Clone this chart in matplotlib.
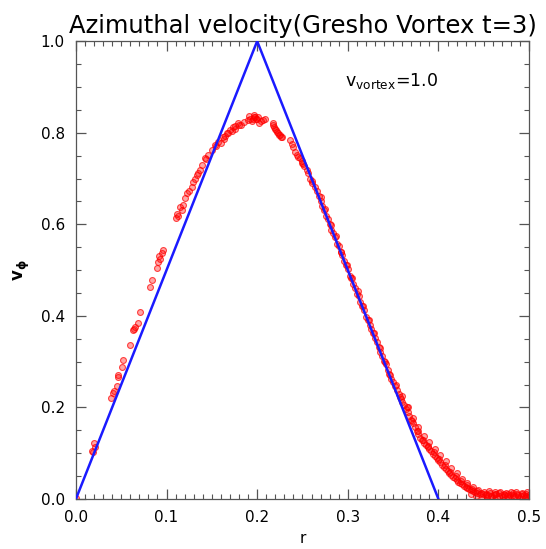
import matplotlib
matplotlib.use("Agg")
import matplotlib.pyplot as plt
from matplotlib.ticker import MultipleLocator

# ---- data ----
# analytic Gresho vortex profile (vertices of the solid line)
r_exact = [0.0, 0.2, 0.4]
v_exact = [0.0, 1.0, 0.0]

# simulated particles: rising part + peak
r_rise = [0.000, 0.0177, 0.0188, 0.0199, 0.021, 0.0386, 0.041, 0.042, 0.045, 0.0464, 0.047,
          0.051, 0.052, 0.0596, 0.063, 0.065, 0.068, 0.0706, 0.082, 0.084, 0.0894, 0.0905,
          0.092, 0.095, 0.096, 0.111, 0.112, 0.115, 0.117, 0.120, 0.1225, 0.128, 0.129,
          0.1335, 0.137, 0.139, 0.142, 0.144, 0.150, 0.153, 0.157, 0.160, 0.162, 0.165,
          0.167, 0.170, 0.172, 0.173, 0.176, 0.179, 0.182, 0.190, 0.192, 0.194, 0.196,
          0.198, 0.200, 0.202, 0.206, 0.209, 0.217, 0.219, 0.221, 0.222, 0.224, 0.225,
          0.227, 0.236, 0.238, 0.242, 0.244, 0.247, 0.249, 0.250, 0.252, 0.255, 0.258,
          0.261, 0.264]
v_rise = [0.002, 0.105, 0.103, 0.122, 0.113, 0.220, 0.231, 0.236, 0.247, 0.266, 0.271,
          0.288, 0.303, 0.336, 0.369, 0.376, 0.384, 0.408, 0.463, 0.478, 0.504, 0.517,
          0.530, 0.537, 0.545, 0.613, 0.622, 0.638, 0.632, 0.657, 0.668, 0.681, 0.692,
          0.707, 0.718, 0.729, 0.745, 0.742, 0.762, 0.773, 0.780, 0.778, 0.790, 0.793,
          0.799, 0.806, 0.803, 0.812, 0.815, 0.821, 0.818, 0.828, 0.831, 0.826, 0.834,
          0.834, 0.829, 0.822, 0.828, 0.830, 0.821, 0.812, 0.806, 0.801, 0.796, 0.795,
          0.790, 0.784, 0.776, 0.758, 0.752, 0.745, 0.738, 0.734, 0.727, 0.718, 0.700,
          0.690, 0.681]
# extra particles crowding the peak
r_peak = [0.064, 0.093, 0.113, 0.118, 0.125, 0.131, 0.135, 0.146, 0.155, 0.163, 0.168,
          0.175, 0.180, 0.186, 0.191, 0.195, 0.197, 0.199, 0.201, 0.204, 0.218, 0.220,
          0.223, 0.226, 0.240, 0.245, 0.251, 0.256, 0.260]
v_peak = [0.372, 0.524, 0.618, 0.642, 0.672, 0.698, 0.712, 0.752, 0.770, 0.786, 0.800,
          0.809, 0.816, 0.823, 0.836, 0.829, 0.838, 0.831, 0.835, 0.826, 0.816, 0.809,
          0.799, 0.790, 0.768, 0.748, 0.731, 0.712, 0.694]

# simulated particles: falling part and tail
r_fall = [0.266, 0.268, 0.270, 0.272, 0.274, 0.276, 0.278, 0.280, 0.282, 0.284, 0.286,
          0.288, 0.290, 0.292, 0.294, 0.296, 0.298, 0.300, 0.302, 0.304, 0.306, 0.308,
          0.310, 0.312, 0.314, 0.316, 0.318, 0.320, 0.322, 0.324, 0.326, 0.328, 0.330,
          0.332, 0.334, 0.336, 0.338, 0.340, 0.342, 0.344, 0.346, 0.348, 0.350, 0.352,
          0.354, 0.356, 0.358, 0.360, 0.362, 0.364, 0.366, 0.368, 0.370, 0.372, 0.374,
          0.376, 0.378, 0.380, 0.382, 0.384, 0.386, 0.388, 0.390, 0.392, 0.394, 0.396,
          0.398, 0.400, 0.402, 0.404, 0.406, 0.408, 0.410, 0.412, 0.414, 0.416, 0.418,
          0.420, 0.422, 0.424, 0.426, 0.428, 0.430, 0.432, 0.434, 0.436, 0.438, 0.440,
          0.443, 0.446, 0.449, 0.452, 0.455, 0.458, 0.461, 0.464, 0.467, 0.470, 0.473,
          0.476, 0.479, 0.482, 0.485, 0.488, 0.491, 0.494, 0.497, 0.500]
v_fall = [0.672, 0.662, 0.651, 0.641, 0.632, 0.618, 0.612, 0.601, 0.588, 0.581, 0.572,
          0.558, 0.552, 0.540, 0.533, 0.519, 0.512, 0.502, 0.488, 0.482, 0.470, 0.462,
          0.448, 0.443, 0.430, 0.421, 0.412, 0.398, 0.392, 0.380, 0.371, 0.362, 0.352,
          0.342, 0.332, 0.322, 0.313, 0.302, 0.294, 0.282, 0.274, 0.262, 0.255, 0.246,
          0.238, 0.229, 0.222, 0.212, 0.206, 0.196, 0.190, 0.181, 0.173, 0.166, 0.158,
          0.148, 0.142, 0.133, 0.128, 0.122, 0.118, 0.113, 0.109, 0.104, 0.099, 0.094,
          0.089, 0.085, 0.080, 0.075, 0.070, 0.066, 0.061, 0.057, 0.053, 0.049, 0.046,
          0.042, 0.038, 0.035, 0.032, 0.029, 0.026, 0.024, 0.022, 0.020, 0.018, 0.016,
          0.013, 0.011, 0.010, 0.008, 0.009, 0.007, 0.008, 0.010, 0.007, 0.009, 0.008,
          0.006, 0.009, 0.008, 0.007, 0.009, 0.006, 0.008, 0.007, 0.008]
# second layer of particles in the falling part (band thickness)
r_fall2 = [0.270, 0.275, 0.281, 0.287, 0.293, 0.299, 0.305, 0.311, 0.317, 0.323, 0.329,
           0.335, 0.341, 0.347, 0.353, 0.359, 0.365, 0.371, 0.377, 0.383, 0.389, 0.395,
           0.401, 0.407, 0.413, 0.419, 0.425, 0.431, 0.437, 0.442, 0.447, 0.452, 0.457,
           0.462, 0.467, 0.472, 0.477, 0.482, 0.487, 0.492, 0.497]
v_fall2 = [0.660, 0.634, 0.598, 0.574, 0.540, 0.512, 0.482, 0.455, 0.421, 0.391, 0.362,
           0.329, 0.300, 0.272, 0.248, 0.218, 0.200, 0.171, 0.148, 0.130, 0.116, 0.103,
           0.088, 0.075, 0.060, 0.050, 0.040, 0.030, 0.022, 0.017, 0.014, 0.012, 0.013,
           0.011, 0.013, 0.012, 0.011, 0.013, 0.012, 0.011, 0.012]
# third layer: upper edge of the smeared tail
r_fall3 = [0.360, 0.366, 0.372, 0.378, 0.384, 0.390, 0.396, 0.402, 0.408, 0.414, 0.420,
           0.426, 0.432, 0.438, 0.444, 0.450, 0.456, 0.462, 0.468, 0.474, 0.480, 0.486,
           0.492, 0.498]
v_fall3 = [0.226, 0.200, 0.178, 0.158, 0.138, 0.124, 0.110, 0.096, 0.082, 0.068, 0.056,
           0.044, 0.034, 0.026, 0.019, 0.016, 0.017, 0.015, 0.016, 0.014, 0.016, 0.015,
           0.014, 0.015]
# lower edge of the flat tail
r_fall4 = [0.436, 0.441, 0.448, 0.454, 0.459, 0.465, 0.471, 0.477, 0.483, 0.489, 0.495, 0.499]
v_fall4 = [0.010, 0.006, 0.004, 0.003, 0.004, 0.003, 0.004, 0.003, 0.004, 0.003, 0.003, 0.004]

title = "Azimuthal velocity(Gresho Vortex t=3)"
xticks = [0.0, 0.1, 0.2, 0.3, 0.4, 0.5]
yticks = [0.0, 0.2, 0.4, 0.6, 0.8, 1.0]

# ---- plot ----
plt.rcParams['font.family'] = ['DejaVu Sans']
plt.rcParams['mathtext.default'] = 'regular'

fig = plt.figure(figsize=(5.46, 5.49), dpi=100)
ax = fig.add_axes([0.139, 0.091, 0.830, 0.834])

pt_face = (1, 0, 0, 0.35)
pt_edge = (1, 0, 0, 0.7)
for rr, vv in [(r_rise, v_rise), (r_peak, v_peak), (r_fall, v_fall), (r_fall2, v_fall2),
               (r_fall3, v_fall3), (r_fall4, v_fall4)]:
    ax.scatter(rr, vv, s=18, facecolor=pt_face, edgecolor=pt_edge, linewidth=0.8, zorder=2)

ax.plot(r_exact, v_exact, color='#1a1aff', lw=1.8, zorder=3)

ax.set_xlim(0, 0.5)
ax.set_ylim(0, 1.0)
ax.set_xticks(xticks)
ax.set_yticks(yticks)
ax.set_xticklabels([f"{t:.1f}" for t in xticks])
ax.set_yticklabels([f"{t:.1f}" for t in yticks])
ax.xaxis.set_minor_locator(MultipleLocator(0.01))
ax.yaxis.set_minor_locator(MultipleLocator(0.05))
ax.tick_params(which='both', direction='in', top=True, right=True, color='#555555',
               labelsize=11, pad=8)
ax.tick_params(which='major', length=7, width=0.9)
ax.tick_params(which='minor', length=3.5, width=0.8)
for s in ax.spines.values():
    s.set_color('#555555')
    s.set_linewidth(0.9)

ax.set_title(title, fontsize=17.5, pad=6)
ax.set_xlabel('r', fontsize=11, labelpad=4)
ax.set_ylabel(r'$v_\phi$', fontsize=12, labelpad=6, fontweight='bold')
ax.text(0.297, 0.902, r'$v_{vortex}$=1.0', fontsize=12.5, ha='left', va='baseline')

fig.savefig('out.png', dpi=100)
